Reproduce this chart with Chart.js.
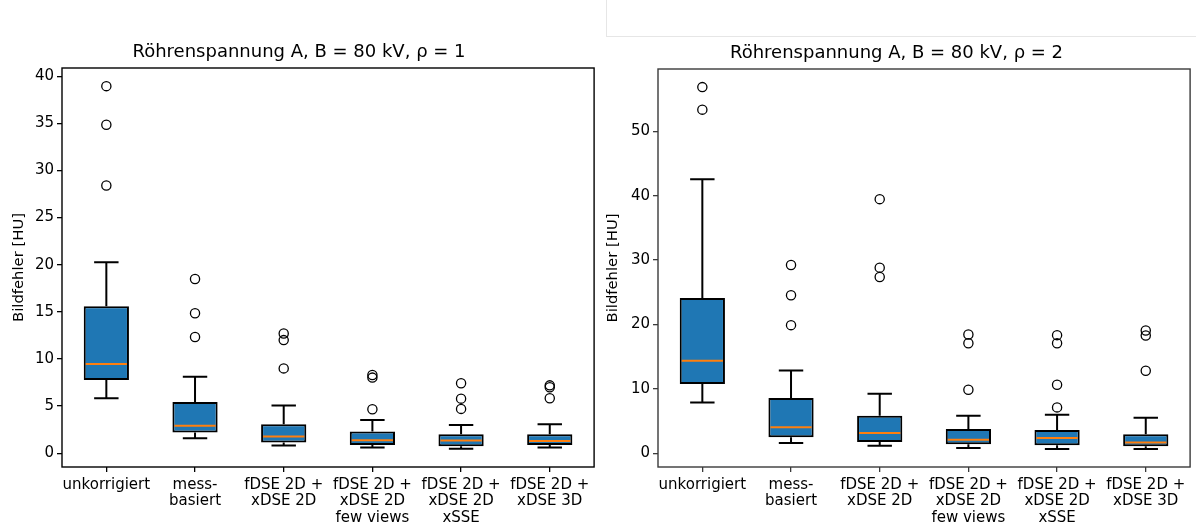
<!DOCTYPE html>
<html>
<head>
<meta charset="utf-8">
<script src="https://cdn.jsdelivr.net/npm/chart.js@4/dist/chart.umd.min.js"></script>
<style>
  body { margin: 0; background: #fff; width: 1196px; height: 524px; overflow: hidden; position: relative; }
  canvas { position: absolute; top: 0; }
  #left { left: 0; }
  #right { left: 600px; }
  .edge { position: absolute; left: 606px; top: 0; width: 590px; height: 36px;
          border-left: 1px solid #e6e6e6; border-bottom: 1px solid #e6e6e6; }
</style>
</head>
<body>
<div class="edge"></div>
<canvas id="left" width="600" height="524"></canvas>
<canvas id="right" width="596" height="524"></canvas>
<script>
const categories = ['unkorrigiert', 'mess-basiert', 'fDSE 2D + xDSE 2D',
  'fDSE 2D + xDSE 2D few views', 'fDSE 2D + xDSE 2D xSSE', 'fDSE 2D + xDSE 3D'];
const tickLines = [['unkorrigiert'], ['mess-', 'basiert'], ['fDSE 2D +', 'xDSE 2D'],
  ['fDSE 2D +', 'xDSE 2D', 'few views'], ['fDSE 2D +', 'xDSE 2D', 'xSSE'], ['fDSE 2D +', 'xDSE 3D']];

// rho = 1
const whiskerLow1  = [5.83, 1.59, 0.81, 0.60, 0.46, 0.60];
const q1Rho1       = [7.77, 2.19, 1.13, 0.88, 0.74, 0.88];
const median1      = [9.47, 2.90, 1.76, 1.38, 1.34, 1.30];
const q3Rho1       = [15.60, 5.44, 3.07, 2.29, 2.01, 2.01];
const whiskerHigh1 = [20.25, 8.12, 5.05, 3.53, 3.00, 3.07];
const outliers1 = [[38.95, 34.85, 28.40], [18.48, 14.85, 12.33], [12.70, 12.00, 9.00],
  [8.30, 8.02, 4.67], [7.42, 5.79, 4.70], [7.20, 7.00, 5.83]];
const yTicks1 = [0, 5, 10, 15, 20, 25, 30, 35, 40];

// rho = 2
const whiskerLow2  = [7.90, 1.60, 1.19, 0.83, 0.68, 0.68];
const q1Rho2       = [10.75, 2.48, 1.77, 1.40, 1.24, 1.09];
const median2      = [14.37, 4.03, 3.15, 2.12, 2.38, 1.66];
const q3Rho2       = [24.13, 8.58, 5.84, 3.78, 3.62, 2.95];
const whiskerHigh2 = [42.57, 12.87, 9.25, 5.84, 6.00, 5.53];
const outliers2 = [[56.87, 53.37], [29.24, 24.54, 19.90], [39.47, 28.83, 27.38],
  [18.44, 17.10, 9.87], [18.35, 17.10, 10.65, 7.13], [19.06, 18.29, 12.82]];
const yTicks2 = [0, 10, 20, 30, 40, 50];

Chart.defaults.font.family = '"DejaVu Sans", sans-serif';
Chart.defaults.color = '#000';

function makeChart(id, s, cfg) {
  // whiskers, caps, medians and the frame around the plot area
  const boxPlot = {
    id: 'boxPlot',
    afterDatasetsDraw(chart) {
      const { ctx, chartArea: a, scales: { y } } = chart;
      const bars = chart.getDatasetMeta(0).data;
      ctx.save();
      bars.forEach((bar, i) => {
        const cx = bar.x, half = bar.width / 2, cap = bar.width * 0.27;
        const pLow = y.getPixelForValue(s.low[i]), pHigh = y.getPixelForValue(s.high[i]);
        ctx.strokeStyle = '#000';
        ctx.lineWidth = 2;
        ctx.beginPath();
        ctx.moveTo(cx, y.getPixelForValue(s.q3[i])); ctx.lineTo(cx, pHigh);
        ctx.moveTo(cx, y.getPixelForValue(s.q1[i])); ctx.lineTo(cx, pLow);
        ctx.moveTo(cx - cap, pHigh); ctx.lineTo(cx + cap, pHigh);
        ctx.moveTo(cx - cap, pLow); ctx.lineTo(cx + cap, pLow);
        ctx.stroke();
        const pMed = y.getPixelForValue(s.median[i]);
        ctx.strokeStyle = '#ff7f0e';
        ctx.beginPath();
        ctx.moveTo(cx - half + 2, pMed); ctx.lineTo(cx + half - 2, pMed);
        ctx.stroke();
      });
      ctx.strokeStyle = cfg.frame;
      ctx.lineWidth = 1.4;
      ctx.strokeRect(a.left, a.top, a.right - a.left, a.bottom - a.top);
      ctx.restore();
    }
  };

  // matplotlib-style limits: 5% margin around all values
  const all = s.low.concat(s.high, ...s.out);
  const lo = Math.min(...all), hi = Math.max(...all), m = (hi - lo) * 0.05;

  const points = [];
  s.out.forEach((vals, i) => vals.forEach(v => points.push({ x: categories[i], y: v })));

  return new Chart(document.getElementById(id), {
    type: 'bar',
    data: {
      labels: categories,
      datasets: [{
        data: categories.map((c, i) => [s.q1[i], s.q3[i]]),
        backgroundColor: '#1f77b4',
        borderColor: '#000',
        borderWidth: 2,
        borderSkipped: false,
        barPercentage: 0.51,
        categoryPercentage: 1
      }, {
        type: 'line',
        data: points,
        showLine: false,
        pointStyle: 'circle',
        pointRadius: 4.6,
        pointBorderWidth: 1.3,
        pointBorderColor: '#000',
        pointBackgroundColor: 'rgba(0,0,0,0)'
      }]
    },
    options: {
      responsive: false,
      animation: false,
      layout: { padding: { left: 0, right: cfg.padRight, top: cfg.padTop, bottom: 0 } },
      plugins: {
        legend: { display: false },
        tooltip: { enabled: false },
        title: {
          display: true,
          text: cfg.title,
          font: { size: 18, weight: 'normal' },
          padding: { top: 0, bottom: cfg.titleGap }
        }
      },
      scales: {
        x: {
          offset: true,
          grid: { display: true, offset: false, drawOnChartArea: false, drawTicks: true, tickLength: 5, color: cfg.frame, lineWidth: 1.3 },
          border: { display: false },
          ticks: {
            autoSkip: false, maxRotation: 0, padding: 4.5,
            font: { size: 15, lineHeight: 1.113 },
            callback: (v, i) => tickLines[i]
          },
          afterFit: sc => { sc.height = 57; }
        },
        y: {
          min: lo - m,
          max: hi + m,
          grid: { display: true, drawOnChartArea: false, drawTicks: true, tickLength: 5, color: cfg.frame, lineWidth: 1.3 },
          border: { display: false },
          ticks: { padding: 3, font: { size: 15 } },
          afterBuildTicks: sc => { sc.ticks = s.ticks.map(v => ({ value: v })); },
          title: {
            display: true,
            text: 'Bildfehler [HU]',
            font: { size: 14.8 },
            padding: { top: cfg.yTitlePad, bottom: 0 }
          },
          afterFit: sc => { sc.width = cfg.yWidth; }
        }
      }
    },
    plugins: [boxPlot]
  });
}

makeChart('left', {
  low: whiskerLow1, q1: q1Rho1, median: median1, q3: q3Rho1, high: whiskerHigh1,
  out: outliers1, ticks: yTicks1
}, {
  title: 'Röhrenspannung A, B = 80 kV, ρ = 1',
  padTop: 41.2, titleGap: 5.2, padRight: 2, yWidth: 62, yTitlePad: 10.1, frame: '#000'
});

makeChart('right', {
  low: whiskerLow2, q1: q1Rho2, median: median2, q3: q3Rho2, high: whiskerHigh2,
  out: outliers2, ticks: yTicks2
}, {
  title: 'Röhrenspannung A, B = 80 kV, ρ = 2',
  padTop: 42.2, titleGap: 5.2, padRight: 3, yWidth: 58, yTitlePad: 4.4, frame: '#3a3a3a'
});
</script>
</body>
</html>
